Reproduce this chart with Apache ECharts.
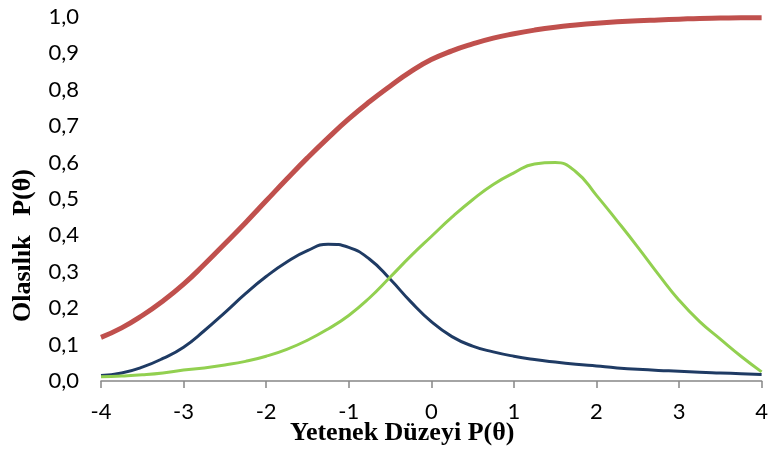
<!DOCTYPE html>
<html>
<head>
<meta charset="utf-8">
<script src="https://cdn.jsdelivr.net/npm/echarts@6/dist/echarts.min.js"></script>
<style>html,body{margin:0;padding:0;background:#fff}#c{width:771px;height:450px}</style>
</head>
<body>
<div id="c"></div>
<script>
var theta = [-4, -3.75, -3.5, -3.25, -3, -2.75, -2.5, -2.25, -2, -1.75, -1.5, -1.25, -1, -0.75, -0.5, -0.25, 0,
             0.25, 0.5, 0.75, 1, 1.25, 1.5, 1.75, 2, 2.25, 2.5, 2.75, 3, 3.25, 3.5, 3.75, 4];
var redVals = [0.12, 0.146, 0.18, 0.22, 0.266, 0.32, 0.377, 0.435, 0.495, 0.555, 0.613, 0.668, 0.72, 0.767, 0.81, 0.85, 0.883,
               0.907, 0.926, 0.942, 0.954, 0.964, 0.972, 0.978, 0.983, 0.987, 0.99, 0.992, 0.994, 0.996, 0.997, 0.998, 0.998];
var blueVals = [0.015, 0.022, 0.038, 0.062, 0.093, 0.138, 0.188, 0.24, 0.287, 0.327, 0.358, 0.376, 0.367, 0.335, 0.28, 0.218, 0.163,
                0.122, 0.096, 0.08, 0.068, 0.059, 0.052, 0.046, 0.041, 0.036, 0.032, 0.029, 0.027, 0.024, 0.022, 0.02, 0.018];
var greenVals = [0.012, 0.014, 0.017, 0.022, 0.03, 0.036, 0.044, 0.054, 0.068, 0.087, 0.112, 0.143, 0.18, 0.228, 0.285, 0.343, 0.397,
                 0.45, 0.498, 0.54, 0.572, 0.596, 0.6, 0.575, 0.51, 0.44, 0.368, 0.293, 0.222, 0.163, 0.115, 0.068, 0.025];
var xTicks = [-4, -3, -2, -1, 0, 1, 2, 3, 4];
var yTicks = [0, 0.1, 0.2, 0.3, 0.4, 0.5, 0.6, 0.7, 0.8, 0.9, 1.0];
var xTitle = 'Yetenek Düzeyi P(θ)';
var yTitle = 'Olasılık   P(θ)';

function pairs(v) { return theta.map(function (t, i) { return [t, v[i]]; }); }

var chart = echarts.init(document.getElementById('c'), null, { renderer: 'canvas' });
chart.setOption({
  animation: false,
  backgroundColor: '#fff',
  grid: { left: 101, right: 4, top: 17, bottom: 69, containLabel: false },
  xAxis: {
    type: 'value', min: -4, max: 4, interval: 1,
    axisLine: { show: true, onZero: false, lineStyle: { color: '#868686', width: 1.5 } },
    axisTick: { show: true, inside: false, length: 7, lineStyle: { color: '#868686', width: 1.5 } },
    axisLabel: { margin: 20, fontFamily: 'Lato', fontSize: 22, color: '#000',
      formatter: function (v) { return xTicks.indexOf(v) >= 0 ? String(v) : ''; } },
    splitLine: { show: false }
  },
  yAxis: {
    type: 'value', min: 0, max: 1, interval: 0.1,
    axisLine: { show: false }, axisTick: { show: false }, splitLine: { show: false },
    axisLabel: { margin: 22, fontFamily: 'Lato', fontSize: 22, color: '#000',
      formatter: function (v) {
        var i = Math.round(v * 10);
        return yTicks[i].toFixed(1).replace('.', ',');
      } }
  },
  graphic: [
    { type: 'text', left: 290, top: 420, style: { text: xTitle, font: 'bold 26px "Liberation Serif"', fill: '#000' } },
    { type: 'text', x: 10, y: 322, rotation: Math.PI / 2, style: { text: yTitle, font: 'bold 26px "Liberation Serif"', fill: '#000', textVerticalAlign: 'top' } }
  ],
  series: [
    { type: 'line', data: pairs(redVals), smooth: 0.5, smoothMonotone: 'none', showSymbol: false, lineStyle: { color: '#C0504D', width: 5 } },
    { type: 'line', data: pairs(blueVals), smooth: 0.5, smoothMonotone: 'none', showSymbol: false, lineStyle: { color: '#1F3B64', width: 3 } },
    { type: 'line', data: pairs(greenVals), smooth: 0.5, smoothMonotone: 'none', showSymbol: false, lineStyle: { color: '#92D050', width: 3 } }
  ]
});
</script>
</body>
</html>
